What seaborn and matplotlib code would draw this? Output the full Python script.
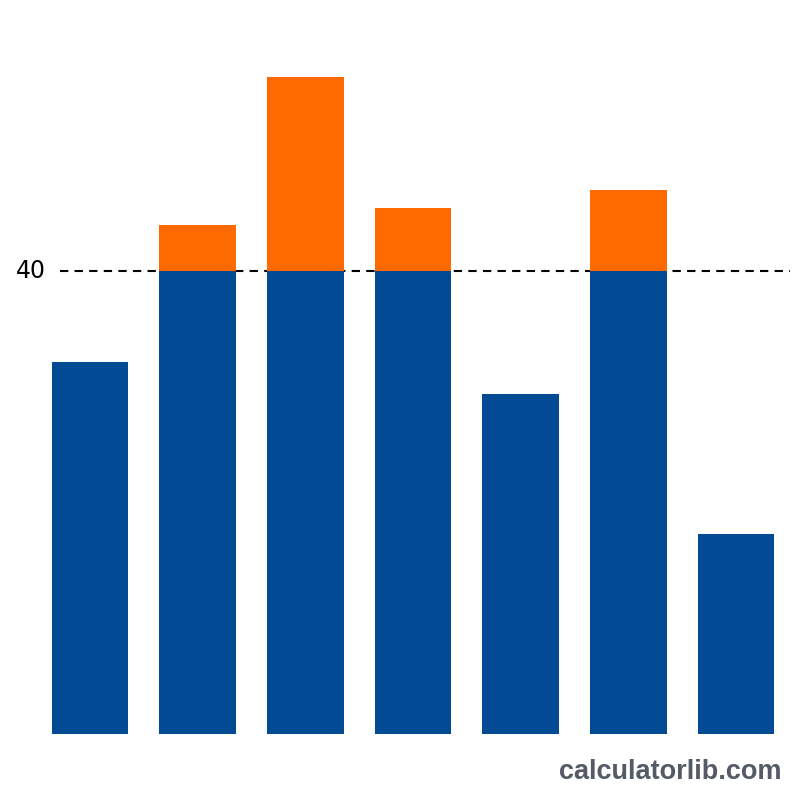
import numpy as np
import pandas as pd
import seaborn as sns
import matplotlib.pyplot as plt

categories = ["A", "B", "C", "D", "E", "F", "G"]
values = [32.2, 44.0, 56.8, 45.5, 29.4, 47.0, 17.3]
threshold = 40

df = pd.DataFrame({"cat": categories, "value": values})
df["base"] = np.minimum(df["value"], threshold)

sns.set_style("white")
fig = plt.figure(figsize=(8, 8), dpi=100)
ax = fig.add_axes([0.045, 0.0825, 0.9425, 0.8675])

# orange for the full height, blue covers everything up to the threshold
sns.barplot(data=df, x="cat", y="value", color="#ff6a00", width=0.71,
            saturation=1, linewidth=0, ax=ax)
sns.barplot(data=df, x="cat", y="base", color="#034a94", width=0.71,
            saturation=1, linewidth=0, ax=ax)

ax.set_xlim(-0.5, 6.5)
ax.set_ylim(0, 60)
ax.axhline(threshold, xmin=0.032, xmax=1.0, color="black", linestyle="--",
           linewidth=1.5, dashes=(4, 3), zorder=0)
fig.text(0.057, 1 - 271 / 800, "40", ha="right", va="center", fontsize=17,
         color="black")

ax.set_xlabel("")
ax.set_ylabel("")
ax.set_xticks([])
ax.set_yticks([])
sns.despine(ax=ax, left=True, bottom=True)

fig.text(0.977, 0.035, "calculatorlib.com", ha="right", va="center",
         fontsize=19.5, fontweight="bold", color="#555b66",
         family="Liberation Sans")

fig.savefig("out.png", dpi=100)
